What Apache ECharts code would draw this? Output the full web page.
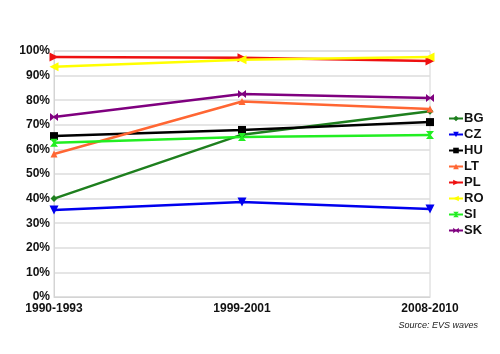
<!DOCTYPE html>
<html>
  <head>
    <meta charset="UTF-8" />
    <script src="https://cdn.jsdelivr.net/npm/echarts@6/dist/echarts.min.js"></script>
  </head>
  <body style="margin:0">
    <div id="main"></div>
    <script>
      const width = 500;
      const height = 354;
      const main = document.getElementById('main');
      main.style.width = `${width}px`;
      main.style.height = `${height}px`;

      const waves = ['1990-1993', '1999-2001', '2008-2010'];
      const BG = [40, 66, 75.5];
      const CZ = [35.4, 38.6, 35.8];
      const HU = [65.4, 67.9, 71.1];
      const LT = [58.1, 79.5, 76.4];
      const PL = [97.6, 97.3, 95.9];
      const RO = [93.6, 96.4, 97.6];
      const SI = [62.7, 65, 65.9];
      const SK = [73.2, 82.5, 80.9];

      const hourglass = 'path://M0,0 L10,0 L6,5 L10,10 L0,10 L4,5 Z';
      const bowtie = 'path://M0,0 L5,4 L10,0 L10,10 L5,6 L0,10 Z';

      const defs = [
        ['BG', BG, '#1e7f1e', 'diamond', 7],
        ['CZ', CZ, '#0000ee', 'path://M0,0 L10,0 L5,9 Z', 9],
        ['HU', HU, '#000000', 'rect', 8],
        ['LT', LT, '#ff6633', 'triangle', 7],
        ['PL', PL, '#ee1111', 'path://M0,0 L9,5 L0,10 Z', 9],
        ['RO', RO, '#ffff00', 'path://M9,0 L0,5 L9,10 Z', 9],
        ['SI', SI, '#22ee22', hourglass, 8],
        ['SK', SK, '#7f007f', bowtie, 8]
      ];

      const myChart = echarts.init(main);
      const option = {
        animation: false,
        backgroundColor: '#fff',
        textStyle: { fontFamily: 'Liberation Sans, Arial, sans-serif' },
        grid: {
          left: 54, right: 70, top: 51, bottom: 57,
          show: true, borderColor: '#d4d4d4', borderWidth: 1
        },
        legend: {
          orient: 'vertical',
          left: 443,
          top: 107,
          itemGap: 3,
          itemWidth: 14,
          itemHeight: 7,
          textStyle: { fontSize: 13, fontWeight: 'bold', color: '#111', padding: [0, 0, 0, -4] },
          data: defs.map(d => d[0])
        },
        xAxis: {
          type: 'category',
          boundaryGap: false,
          data: waves,
          axisLine: { lineStyle: { color: '#d4d4d4' } },
          axisTick: { show: false },
          axisLabel: {
            fontSize: 12, fontWeight: 'bold', color: '#111', margin: 6,
            alignMinLabel: 'center', alignMaxLabel: 'center'
          },
          splitLine: { show: false }
        },
        yAxis: {
          type: 'value',
          min: 0, max: 100, interval: 10,
          axisLine: { show: true, lineStyle: { color: '#d4d4d4' } },
          axisTick: { show: false },
          axisLabel: { formatter: '{value}%', fontSize: 12, fontWeight: 'bold', color: '#111', margin: 4 },
          splitLine: { lineStyle: { color: '#dcdcdc', width: 1.5 } }
        },
        graphic: [{
          type: 'text',
          right: 22,
          top: 321,
          style: {
            text: 'Source: EVS waves',
            font: 'italic 9px Liberation Sans, Arial, sans-serif',
            fill: '#222'
          }
        }],
        series: defs.map(([name, data, color, symbol, size]) => ({
          name,
          type: 'line',
          data,
          symbol,
          symbolSize: size,
          lineStyle: { width: 2.5, color },
          itemStyle: { color },
          z: name === 'RO' ? 3 : 2
        }))
      };
      myChart.setOption(option);
    </script>
  </body>
</html>
